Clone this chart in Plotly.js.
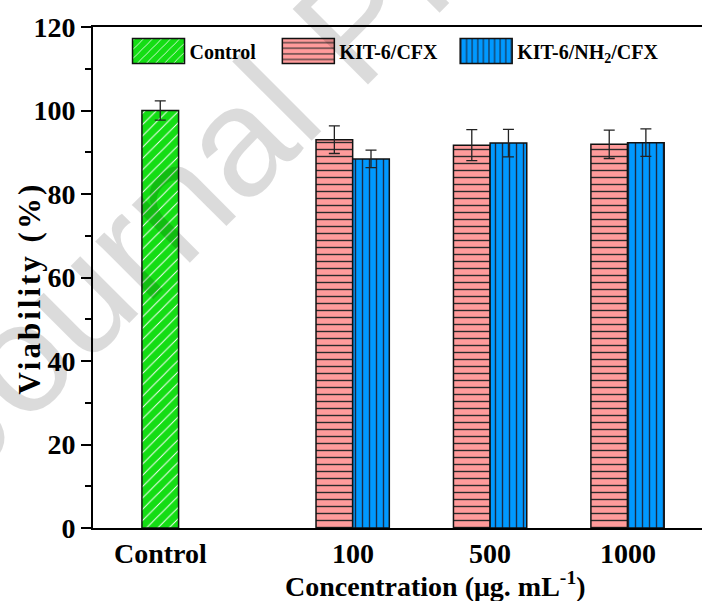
<!DOCTYPE html>
<html>
<head>
<meta charset="utf-8">
<script src="https://cdn.plot.ly/plotly-3.0.1.min.js"></script>
<style>
  html, body { margin: 0; padding: 0; background: #ffffff; }
  #chart { width: 702px; height: 601px; }
</style>
</head>
<body>
<div id="chart"></div>
<script>
// Cell viability (%) by concentration (µg/mL)
const categories = ['Control', '100', '500', '1000'];
const seriesNames = ['Control', 'KIT-6/CFX', 'KIT-6/NH<sub>2</sub>/CFX'];

const controlViability = [100.0, null, null, null];
const controlError     = [2.3, null, null, null];

const kitCfxViability  = [null, 93.0, 91.7, 91.9];
const kitCfxError      = [null, 3.3, 3.7, 3.4];

const kitNh2CfxViability = [null, 88.4, 92.2, 92.3];
const kitNh2CfxError     = [null, 2.1, 3.3, 3.3];

const BAR_GAP = 0.2;
const SERIF = 'Liberation Serif, Times New Roman, serif';
const tickFont = { family: SERIF, size: 28, color: '#000', weight: 'bold' };
const yTitleFont = { family: SERIF, size: 31, color: '#000', weight: 'bold' };
const legendFont = { family: SERIF, size: 20, color: '#000', weight: 'bold' };

const outline = { color: '#111111', width: 1.5 };
const errStyle = { type: 'data', visible: true, color: '#222222', thickness: 1.3, width: 5.5 };

const seriesValues = [controlViability, kitCfxViability, kitNh2CfxViability];
const seriesErrors = [controlError, kitCfxError, kitNh2CfxError];
const seriesFill = [
  { bg: '#14dd14', fg: '#ffffff', shape: '/', size: 8, solidity: 0.12 },
  { bg: '#ff9b9b', fg: '#2a2a2a', shape: '-', size: 7, solidity: 0.2 },
  { bg: '#0099ff', fg: '#1a2a44', shape: '|', size: 7, solidity: 0.2 }
];
const legendIds = ['legend', 'legend2', 'legend3'];

const traces = seriesValues.map((vals, k) => ({
  type: 'bar',
  name: seriesNames[k],
  x: categories,
  y: vals,
  legend: legendIds[k],
  marker: {
    color: seriesFill[k].bg,
    line: outline,
    pattern: {
      shape: seriesFill[k].shape,
      fillmode: 'replace',
      bgcolor: seriesFill[k].bg,
      fgcolor: seriesFill[k].fg,
      size: seriesFill[k].size,
      solidity: seriesFill[k].solidity
    }
  },
  error_y: Object.assign({ array: seriesErrors[k] }, errStyle),
  hoverinfo: 'x+y+name'
}));

// Category labels sit under the bars actually present in each group
const slot = (1 - BAR_GAP) / seriesValues.length;
const tickAnnotations = categories.map((c, i) => {
  const present = seriesValues.map((v, k) => (v[i] != null ? k : -1)).filter(k => k >= 0);
  const shift = present.reduce((s, k) => s + (k - (seriesValues.length - 1) / 2) * slot, 0) / present.length;
  return {
    xref: 'x', yref: 'paper', x: i + shift, y: 0,
    xanchor: 'center', yanchor: 'middle', yshift: -25,
    text: c, showarrow: false, font: tickFont
  };
});

const legendBase = {
  orientation: 'h', xanchor: 'left', yanchor: 'middle', y: 0.952,
  font: legendFont, bgcolor: 'rgba(0,0,0,0)', itemwidth: 52, borderwidth: 0
};

const layout = {
  width: 702, height: 601,
  margin: { l: 93, r: 0, t: 27, b: 73 },
  paper_bgcolor: '#ffffff', plot_bgcolor: '#ffffff',
  barmode: 'group', bargap: BAR_GAP, bargroupgap: 0,
  showlegend: true,
  legend:  Object.assign({ x: 0.0567 }, legendBase),
  legend2: Object.assign({ x: 0.3027 }, legendBase),
  legend3: Object.assign({ x: 0.5947 }, legendBase),
  xaxis: {
    type: 'category', range: [-0.756, 3.675],
    showline: true, linecolor: '#000', linewidth: 2, mirror: true,
    ticks: '', showticklabels: false, showgrid: false, zeroline: false,
    fixedrange: true
  },
  yaxis: {
    range: [0, 120], dtick: 20, tick0: 0,
    showline: true, linecolor: '#000', linewidth: 2, mirror: false,
    ticks: 'outside', ticklen: 10, tickwidth: 2, tickcolor: '#000',
    minor: { dtick: 10, ticks: 'outside', ticklen: 6, tickwidth: 2, tickcolor: '#000' },
    tickfont: tickFont, showgrid: false, zeroline: false, fixedrange: true
  },
  annotations: tickAnnotations.concat([
    {
      xref: 'paper', yref: 'paper', x: 0.562, y: -0.113,
      xanchor: 'center', yanchor: 'middle', showarrow: false,
      text: 'Concentration (μg. mL<sup>-1</sup>)', font: tickFont
    },
    {
      xref: 'paper', yref: 'paper', x: -0.1045, y: 0.48,
      xanchor: 'center', yanchor: 'middle', showarrow: false, textangle: -90,
      text: 'Viability (%)', font: yTitleFont
    },
    {
      xref: 'paper', yref: 'paper', x: 0.431, y: 1.01,
      xanchor: 'center', yanchor: 'middle', showarrow: false, textangle: -45,
      text: 'Journal Pre-proof',
      font: { family: 'Liberation Sans, Arial, sans-serif', size: 155, color: 'rgba(0,0,0,0.14)' }
    }
  ])
};

// Wider legend swatches, like framed sample boxes; slightly spaced y title
function finishStyling(gd) {
  gd.querySelectorAll('.legendpoints path').forEach(p => {
    p.setAttribute('d', 'M26,12.5H-26V-12.5H26Z');
  });
  gd.querySelectorAll('.annotation-text').forEach(t => {
    if (t.textContent.indexOf('Viability') === 0) t.style.letterSpacing = '3px';
  });
}

Plotly.newPlot('chart', traces, layout, { displayModeBar: false, staticPlot: true })
  .then(gd => {
    finishStyling(gd);
    gd.on('plotly_afterplot', () => finishStyling(gd));
  });
</script>
</body>
</html>
